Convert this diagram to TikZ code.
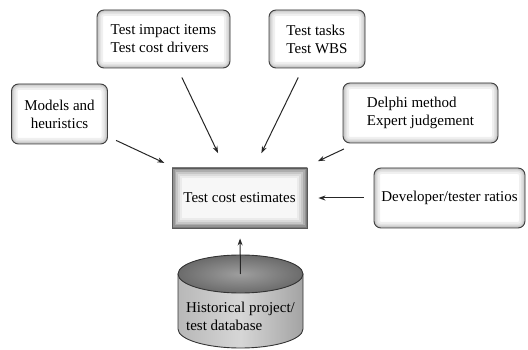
\documentclass[tikz,border=0pt]{standalone}
\usepackage{fontspec}
\setmainfont{Liberation Serif}
\usetikzlibrary{arrows.meta}
\newcommand{\labelfont}{\fontsize{15}{18}\selectfont}
\begin{document}
\begin{tikzpicture}[x=1pt,y=-1pt,
  softbox/.style={draw=black!75, line width=0.9pt, rounded corners=7pt,
    fill=white, align=left, font=\labelfont, inner sep=0pt,
    path picture={
      \foreach \w/\c in {12/6,8/11,5/17,2.5/26}{
        \draw[line width=\w pt, black!\c, rounded corners=7pt]
          (path picture bounding box.south west) rectangle
          (path picture bounding box.north east);}
    }},
  framebox/.style={draw=black!65, line width=0.9pt, fill=black!3,
    align=center, font=\labelfont, inner sep=0pt,
    path picture={
      \foreach \w/\c in {20/8,16/14,12/22,8/32,5/42,2.5/52}{
        \draw[line width=\w pt, black!\c]
          (path picture bounding box.south west) rectangle
          (path picture bounding box.north east);}
    }},
  feed/.style={draw=black!85, line width=1pt,
    -{Stealth[length=7pt,width=5pt]}},
]
\useasboundingbox (0,0) rectangle (528,350);

% source boxes
\node[softbox, minimum width=133pt, minimum height=58pt] (impact) at (163.5,39)
  {Test impact items\\Test cost drivers};
\node[softbox, minimum width=96pt, minimum height=58pt] (tasks) at (317,39)
  {Test tasks\\Test WBS};
\node[softbox, align=center, minimum width=96pt, minimum height=60pt] (models) at (59.5,114)
  {Models and\\heuristics};
\node[softbox, minimum width=155pt, minimum height=60pt] (delphi) at (420.5,113)
  {Delphi method\\Expert judgement};
\node[softbox, minimum width=151pt, minimum height=60pt] (dev) at (449.5,198)
  {Developer/tester ratios};

% central estimate
\node[framebox, minimum width=135pt, minimum height=60pt] (est) at (239.5,198)
  {Test cost estimates};

% historical database cylinder
\path[draw=black!80, line width=0.9pt, left color=black!28, right color=black!36,
      middle color=black!16]
  (178,274) -- (178,329)
  arc[start angle=180, end angle=360, x radius=62.5pt, y radius=19pt]
  -- (303,274) -- cycle;
\draw[black!80, line width=0.9pt, inner color=black!38, outer color=black!58]
  (240.5,274) ellipse [x radius=62.5pt, y radius=19pt];
\coordinate (dbtop) at (240.5,274);
\node[font=\labelfont, align=left, inner sep=0pt] (db) at (240.5,316)
  {Historical project/\\test database};

% connectors
\draw[feed, shorten <=9pt, shorten >=11pt] (models) -- (est);
\draw[feed, shorten <=10pt, shorten >=16pt] (impact) -- (est);
\draw[feed, shorten <=10pt, shorten >=16pt] (tasks) -- (est);
\draw[feed, shorten <=13pt, shorten >=15pt] (delphi) -- (est);
\draw[feed, shorten <=10pt, shorten >=11pt] (dev) -- (est);
\draw[feed, shorten >=10pt] (dbtop) -- (est);
\end{tikzpicture}
\end{document}
